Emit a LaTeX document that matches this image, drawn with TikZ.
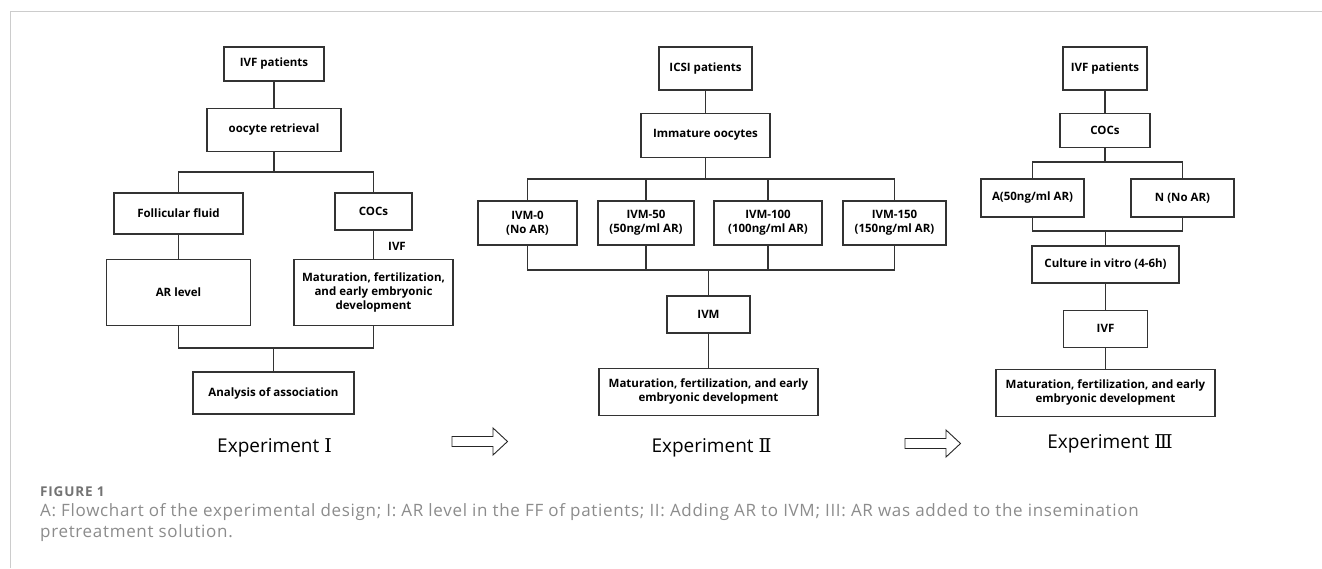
\documentclass[tikz,border=0pt]{standalone}
\usepackage{fontspec}
\setmainfont{Open Sans}
\newfontfamily\numfont{DejaVu Serif}
\newfontfamily\capfont[LetterSpace=4]{Open Sans}
\newfontfamily\tagfont[LetterSpace=6]{Open Sans}
\usetikzlibrary{positioning}

\begin{document}
\begin{tikzpicture}[
  x=1pt, y=-1pt,
  font=\fontsize{11.5}{14}\selectfont\bfseries,
  box/.style={draw=black!80, line width=1.1pt, align=center, inner sep=2pt},
  wh/.style 2 args={minimum width=#1pt, minimum height=#2pt},
  link/.style={draw=black!80, line width=1.1pt},
  hollow/.style={draw=black!85, line width=0.9pt, fill=white},
  title/.style={font=\fontsize{19}{23}\selectfont\mdseries, anchor=base, inner sep=0pt},
  figtag/.style={font=\tagfont\fontsize{13.5}{15}\selectfont\bfseries, text=black!55, anchor=base west, inner sep=0pt},
  captext/.style={font=\capfont\fontsize{17}{21}\selectfont\mdseries, text=black!45, anchor=base west, inner sep=0pt},
]
  \useasboundingbox (0,0) rectangle (1322,568);
  \fill[white] (0,0) rectangle (1322,568);
  \draw[black!20, line width=1pt] (10,568) -- (10,11) -- (1322,11);

  % Experiment I
  \node[box, wh={100}{34}] (ivfA) at (274,64) {IVF patients};
  \node[box, wh={134}{43}, below=26pt of ivfA] (retA) {oocyte retrieval};
  \node[box, wh={129}{41}] (ffA) at (178.5,213.5) {Follicular fluid};
  \node[box, wh={77}{37}] (cocA) at (373.5,211.5) {COCs};
  \node[box, wh={144}{66}, below=24pt of ffA] (arA) {AR level};
  \node[box, wh={159}{66}, below=28pt of cocA] (matA) {Maturation, fertilization,\\and early embryonic\\development};
  \node[box, wh={161}{42}] (anaA) at (273.5,393) {Analysis of association};
  \node (ivfLab) at (397,246.5) {IVF};
  \node[title] (expA) at (274.5,452) {Experiment {\numfont Ⅰ}};

  \coordinate (splitA) at (274,172);
  \coordinate (joinA) at (273.5,348);
  \draw[link] (ivfA) -- (retA);
  \draw[link] (retA) -- (splitA);
  \draw[link] (ffA.north) |- (splitA) -| (cocA.north);
  \draw[link] (ffA) -- (arA);
  \draw[link] (cocA) -- (matA);
  \draw[link] (arA.south) |- (joinA) -| (matA.south);
  \draw[link] (joinA) -- (anaA);

  % Experiment II
  \node[box, wh={93}{43}] (icsiB) at (705.5,68.5) {ICSI patients};
  \node[box, wh={129}{44}, below=22pt of icsiB] (immB) {Immature oocytes};
  \node[box, wh={99}{44}] (ivm0) at (527.5,223) {IVM-0\\(No AR)};
  \node[box, wh={96}{44}] (ivm50) at (646,223) {IVM-50\\(50ng/ml AR)};
  \node[box, wh={108}{44}] (ivm100) at (768,223) {IVM-100\\(100ng/ml AR)};
  \node[box, wh={103}{44}] (ivm150) at (894.5,223) {IVM-150\\(150ng/ml AR)};
  \node[box, wh={83}{37}] (ivmB) at (708.5,314.5) {IVM};
  \node[box, wh={219}{47}, below=34pt of ivmB] (matB) {Maturation, fertilization, and early\\embryonic development};
  \node[title] (expB) at (711.5,452) {Experiment {\numfont Ⅱ}};

  \coordinate (splitB) at (705.5,179);
  \coordinate (joinB) at (708.5,270);
  \draw[link] (icsiB) -- (immB);
  \draw[link] (immB) -- (splitB);
  \draw[link] (ivm0.north) |- (splitB) -| (ivm150.north);
  \draw[link] (ivm0.south) |- (joinB) -| (ivm150.south);
  \foreach \n in {ivm50, ivm100} {
    \draw[link] (\n.north) -- (\n.north |- splitB);
    \draw[link] (\n.south) -- (\n.south |- joinB);
  }
  \draw[link] (joinB) -- (ivmB);
  \draw[link] (ivmB) -- (matB);

  % Experiment III
  \node[box, wh={84}{43}] (ivfC) at (1105,68.5) {IVF patients};
  \node[box, wh={90}{34}, below=22pt of ivfC] (cocC) {COCs};
  \node[box, wh={103}{38}] (aC) at (1032.5,198) {A(50ng/ml AR)};
  \node[box, wh={103}{38}] (nC) at (1182.5,198) {N (No AR)};
  \node[box, wh={147}{37}] (culC) at (1105.5,264.5) {Culture in vitro (4-6h)};
  \node[box, wh={84}{37}, below=26pt of culC] (ivfD) {IVF};
  \node[box, wh={219}{47}, below=21pt of ivfD] (matC) {Maturation, fertilization, and early\\embryonic development};
  \node[title] (expC) at (1110,448) {Experiment {\numfont Ⅲ}};

  \coordinate (splitC) at (1105,162);
  \coordinate (joinC) at (1105.5,231);
  \draw[link] (ivfC) -- (cocC);
  \draw[link] (cocC) -- (splitC);
  \draw[link] (aC.north) |- (splitC) -| (nC.north);
  \draw[link] (aC.south) |- (joinC) -| (nC.south);
  \draw[link] (joinC) -- (culC);
  \draw[link] (culC) -- (ivfD);
  \draw[link] (ivfD) -- (matC);

  % hollow arrows between the experiments
  \foreach \ax/\ay in {452/441.5, 905/443.5}
    \draw[hollow, shift={(\ax,\ay)}] (0,-5) -- (41,-5) -- (41,-13.5) -- (55.5,0)
      -- (41,13.5) -- (41,5) -- (0,5) -- cycle;

  % caption
  \node[figtag] (figlab) at (40,496) {FIGURE 1};
  \node[captext] (cap1) at (40,516) {A: Flowchart of the experimental design; I: AR level in the FF of patients; II: Adding AR to IVM; III: AR was added to the insemination};
  \node[captext] (cap2) at (40,537) {pretreatment solution.};
\end{tikzpicture}
\end{document}
